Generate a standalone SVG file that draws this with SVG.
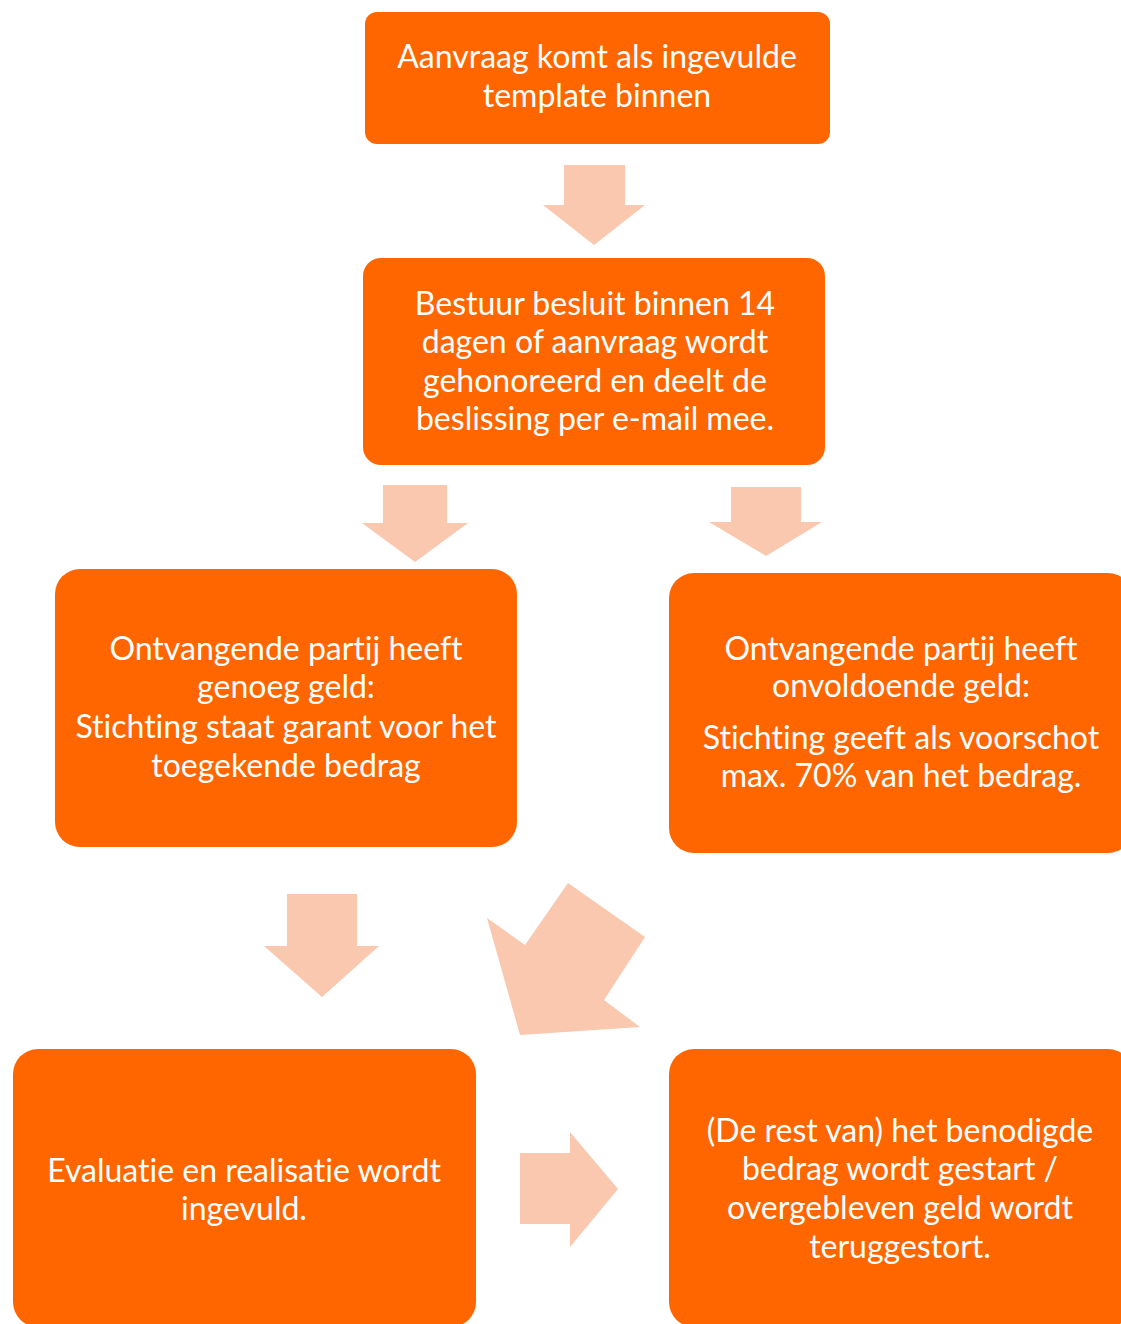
<svg xmlns="http://www.w3.org/2000/svg" width="1121" height="1324" viewBox="0 0 1121 1324">
<style>
.box{fill:#FF6600;}
.arr{fill:#F9C8AE;}
.t{font-family:Lato,"Liberation Sans",sans-serif;font-size:32px;fill:#FFFFFF;text-anchor:middle;font-variant-ligatures:none;}
</style>
<rect width="1121" height="1324" fill="#FFFFFF"/>
<g id="connectors">
<polygon class="arr" points="564,165 625,165 625,205 645,205 594,245 543,205 564,205"/>
<polygon class="arr" points="383,485 447,485 447,523 468,523 415,562 362,523 383,523"/>
<polygon class="arr" points="731,487 801,487 801,522 822,522 766,556 709,522 731,522"/>
<polygon class="arr" points="287,894 357,894 357,946 379,946 322,997 264,946 287,946"/>
<polygon class="arr" points="568,883 645,937 604,1000 640,1027 520,1035 487,918 525,945"/>
<polygon class="arr" points="520,1153 570,1153 570,1132 618,1189 570,1247 570,1224 520,1224"/>
</g>
<g id="node1">
<rect class="box" x="365" y="12" width="465" height="132" rx="12"/>
<text class="t" x="597" y="68">Aanvraag komt als ingevulde</text>
<text class="t" x="597" y="107">template binnen</text>
</g>
<g id="node2">
<rect class="box" x="363" y="258" width="462" height="207" rx="18"/>
<text class="t" x="595" y="315">Bestuur besluit binnen 14</text>
<text class="t" x="595" y="353">dagen of aanvraag wordt</text>
<text class="t" x="595" y="392">gehonoreerd en deelt de</text>
<text class="t" x="595" y="430">beslissing per e-mail mee.</text>
</g>
<g id="node3">
<rect class="box" x="55" y="569" width="462" height="278" rx="25"/>
<text class="t" x="286" y="660">Ontvangende partij heeft</text>
<text class="t" x="286" y="698">genoeg geld:</text>
<text class="t" x="286" y="738">Stichting staat garant voor het</text>
<text class="t" x="286" y="777">toegekende bedrag</text>
</g>
<g id="node4">
<rect class="box" x="669" y="573" width="464" height="280" rx="25"/>
<text class="t" x="901" y="660">Ontvangende partij heeft</text>
<text class="t" x="901" y="697">onvoldoende geld:</text>
<text class="t" x="901" y="749">Stichting geeft als voorschot</text>
<text class="t" x="901" y="787">max. 70% van het bedrag.</text>
</g>
<g id="node5">
<rect class="box" x="13" y="1049" width="463" height="278" rx="25"/>
<text class="t" x="244" y="1182">Evaluatie en realisatie wordt</text>
<text class="t" x="244" y="1220">ingevuld.</text>
</g>
<g id="node6">
<rect class="box" x="669" y="1049" width="464" height="278" rx="25"/>
<text class="t" x="900" y="1142">(De rest van) het benodigde</text>
<text class="t" x="900" y="1180">bedrag wordt gestart /</text>
<text class="t" x="900" y="1219">overgebleven geld wordt</text>
<text class="t" x="900" y="1258">teruggestort.</text>
</g>
</svg>
